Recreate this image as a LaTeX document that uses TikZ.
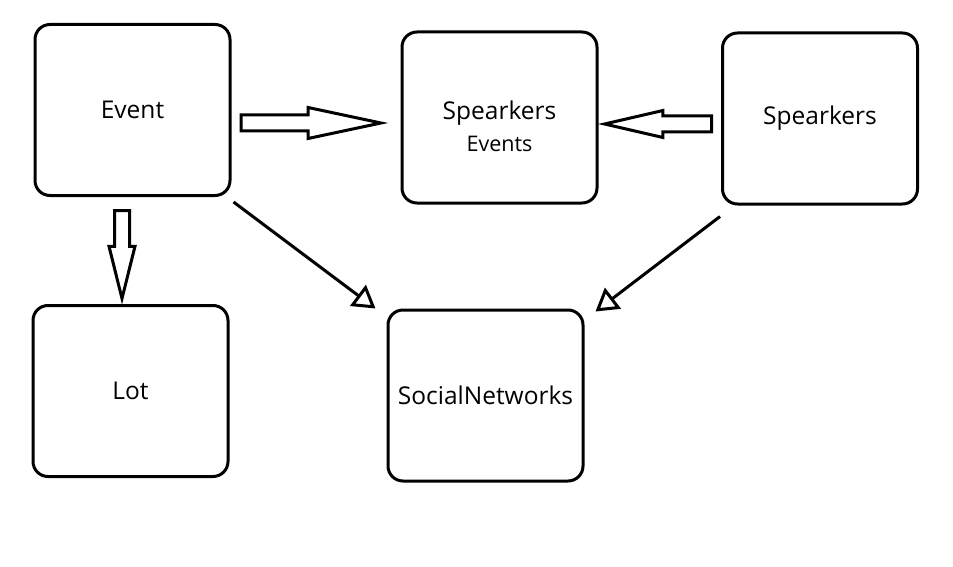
\documentclass[tikz,border=0pt]{standalone}
\usepackage{fontspec}
\setmainfont{Open Sans}
\usetikzlibrary{shapes, arrows.meta, positioning}

\begin{document}
\begin{tikzpicture}[
    x=1pt, y=-1pt,
    line width=3pt,
    block/.style={draw, rectangle, rounded corners=15pt, minimum height=171pt, minimum width=195pt, align=center, fill=white, font=\fontsize{24.5}{32}\selectfont},
    bigarrow/.style={draw, single arrow, single arrow head indent=0pt, inner sep=6.5pt, line width=3pt, anchor=tail},
    link/.style={-{Triangle[open, length=22pt, width=26pt]}, line width=3pt}
]

    \useasboundingbox (0,0) rectangle (953,567);

    % Blocks
    \node[block] (event) at (132.5,110) {Event};
    \node[block] (spevents) at (499.5,117.5) {\raisebox{-18pt}[0pt][0pt]{\begin{tabular}{@{}c@{}}Spearkers\\{\fontsize{21.5}{21.5}\selectfont Events}\end{tabular}}};
    \node[block] (speakers) at (820,118.5) {Spearkers};
    \node[block] (lot) at (130.5,391) {Lot};
    \node[block] (social) at (485.5,395.5) {SocialNetworks};

    % Block arrows
    \node[bigarrow, minimum height=140pt, single arrow head extend=7.5pt, single arrow tip angle=24] (evtosp) at ([shift={(8,13)}]event.east) {};
    \node[bigarrow, minimum height=107pt, single arrow head extend=5.5pt, single arrow tip angle=26, shape border rotate=180] (sptosp) at ([shift={(-8,5.5)}]speakers.west) {};
    \node[bigarrow, minimum height=88pt, single arrow head extend=5.5pt, single arrow tip angle=28, shape border rotate=270, inner sep=6pt] (evtolot) at ([shift={(-10.5,12)}]event.south) {};

    % Links to social networks
    \draw[link] ([shift={(2,5)}]event.south east) -- ([shift={(-11,0)}]social.north west);
    \draw[link] ([shift={(-1,11)}]speakers.south west) -- ([shift={(11,3)}]social.north east);

\end{tikzpicture}
\end{document}
